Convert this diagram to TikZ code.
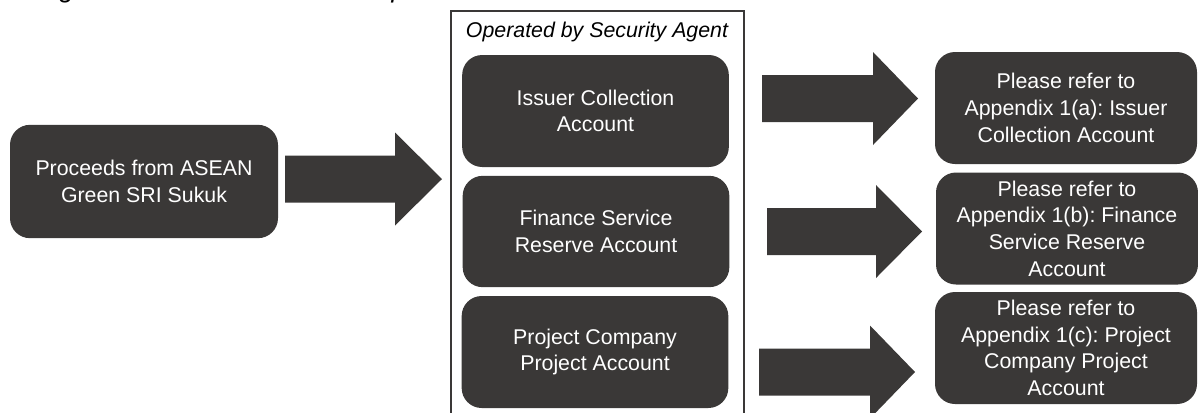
\documentclass[tikz,border=0pt]{standalone}
\usepackage{fontspec}
\setmainfont{Liberation Sans}
\frenchspacing
\definecolor{boxgray}{RGB}{58,56,55}
\tikzset{
  acct/.style={fill=boxgray, rounded corners=15pt, text=white, align=center,
    inner sep=0pt, font=\fontsize{16}{20}\selectfont,
    minimum width=200pt, minimum height=84pt},
  refbox/.style={acct, minimum width=196.5pt},
}
\newcommand{\blockarrow}[4]{%
  \fill[boxgray] (#1,#4-23.5) -- (#2,#4-23.5) -- (#2,#4-46.5) -- (#3,#4)
    -- (#2,#4+46.5) -- (#2,#4+23.5) -- (#1,#4+23.5) -- cycle;}
\begin{document}
\begin{tikzpicture}[x=0.75pt,y=-0.75pt]
  \useasboundingbox (0,0) rectangle (1198,412);
  \clip (0,0) rectangle (1198,412);

  \node[anchor=base west, font=\itshape\fontsize{20}{24}\selectfont] (title) at (15,-2.5)
    {Diagram 1: Utilisation of Sukuk proceeds};

  % security agent frame
  \draw[boxgray, line width=0.8pt] (451,11) rectangle (744,440);
  \node[font=\itshape\fontsize{16}{20}\selectfont] (agent) at (597,32) {Operated by Security Agent};

  \node[acct, minimum width=201pt, minimum height=85pt] (src) at (144,181.5)
    {Proceeds from ASEAN\\Green SRI Sukuk};

  \node[acct] (ica) at (595.5,111) {Issuer Collection\\Account};
  \node[acct, minimum height=83.5pt] (fsra) at (596,231.5) {Finance Service\\Reserve Account};
  \node[acct] (pcpa) at (595,352) {Project Company\\Project Account};

  \node[refbox] (refa) at (1066,108) {Please refer to\\Appendix 1(a): Issuer\\Collection Account};
  \node[refbox] (refb) at (1067,228.5) {Please refer to\\Appendix 1(b): Finance\\Service Reserve\\Account};
  \node[refbox] (refc) at (1066,348) {Please refer to\\Appendix 1(c): Project\\Company Project\\Account};

  \foreach \xa/\xb/\xc/\ym in {285/395/442/179, 762/873/918/98.5, 767/876/922/231.5, 759/870/915/372}
    \blockarrow{\xa}{\xb}{\xc}{\ym};
\end{tikzpicture}
\end{document}
